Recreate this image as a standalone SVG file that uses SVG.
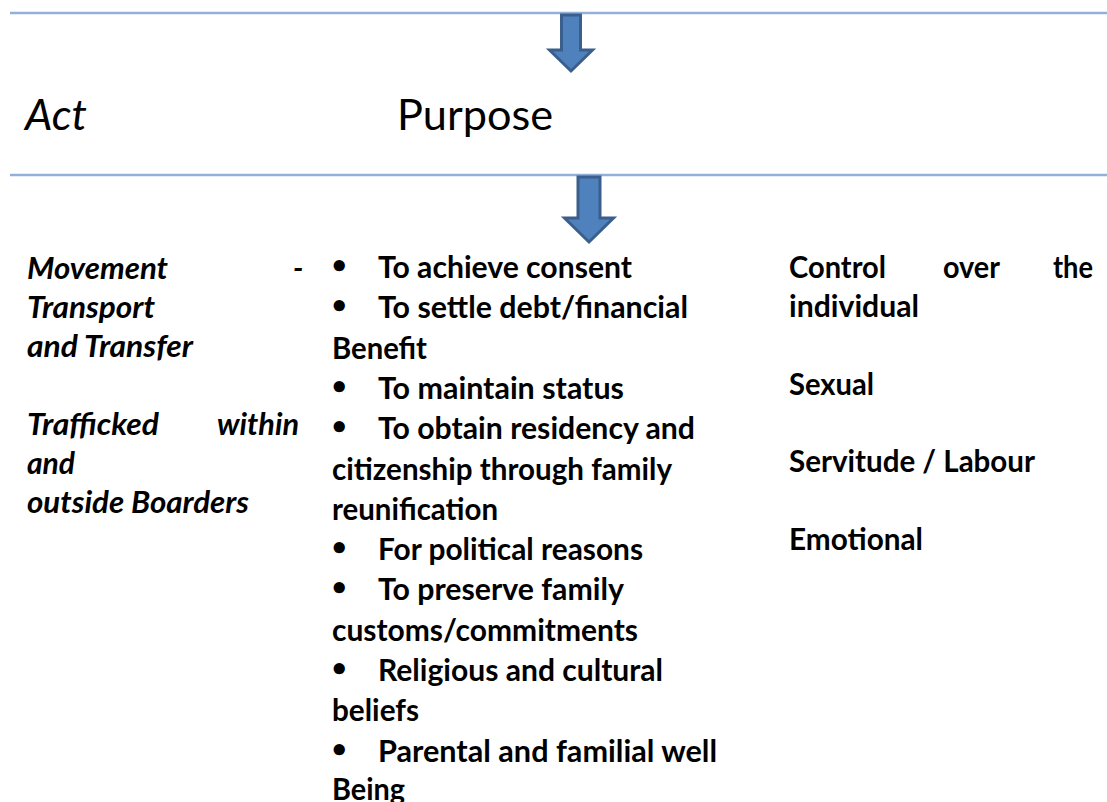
<svg xmlns="http://www.w3.org/2000/svg" width="1107" height="802" viewBox="0 0 1107 802">
<style>
.rule{stroke:#93B1D8;stroke-width:2.5;fill:none}
.blk{fill:#4F81BD;stroke:#3A5F8C;stroke-width:3;stroke-linejoin:miter}
.hd{font-family:Lato,"Liberation Sans",sans-serif;font-size:42px;fill:#000}
.b{font-family:Lato,"Liberation Sans",sans-serif;font-size:30px;font-weight:bold;fill:#000}
.bi{font-family:Lato,"Liberation Sans",sans-serif;font-size:30px;font-weight:bold;font-style:italic;fill:#000}
.bul{font-family:"DejaVu Sans",sans-serif;font-size:32px;font-weight:bold;fill:#000}
</style>
<rect width="1107" height="802" fill="#fff"/>
<g id="rules">
<line class="rule" x1="10" y1="13" x2="1107" y2="13"/>
<line class="rule" x1="10" y1="175" x2="1107" y2="175"/>
</g>
<g id="header">
<text class="hd" x="25" y="130" font-style="italic" textLength="62" lengthAdjust="spacingAndGlyphs">Act</text>
<text class="hd" x="397" y="130" textLength="156" lengthAdjust="spacingAndGlyphs">Purpose</text>
</g>
<g id="connectors">
<polygon class="blk" points="561.5,15 580.5,15 580.5,50 592.5,50 571,71 549.5,50 561.5,50"/>
<polygon class="blk" points="578,177 600,177 600,218 613.5,218 589,242 564.5,218 578,218"/>
</g>
<g id="act">
<text class="bi" x="27" y="279" textLength="141" lengthAdjust="spacingAndGlyphs">Movement</text>
<text class="bi" x="293" y="279">-</text>
<text class="bi" x="27" y="318" textLength="128" lengthAdjust="spacingAndGlyphs">Transport</text>
<text class="bi" x="27" y="357" textLength="166" lengthAdjust="spacingAndGlyphs">and Transfer</text>
<text class="bi" x="27" y="435" textLength="132" lengthAdjust="spacingAndGlyphs">Trafficked</text>
<text class="bi" x="217" y="435" textLength="82" lengthAdjust="spacingAndGlyphs">within</text>
<text class="bi" x="27" y="474" textLength="48" lengthAdjust="spacingAndGlyphs">and</text>
<text class="bi" x="27" y="513" textLength="222" lengthAdjust="spacingAndGlyphs">outside Boarders</text>
</g>
<g id="purpose">
<text class="bul" x="329" y="278">•</text>
<text class="b" x="378" y="278" textLength="254" lengthAdjust="spacingAndGlyphs">To achieve consent</text>
<text class="bul" x="329" y="318.3">•</text>
<text class="b" x="378" y="318.3" textLength="310" lengthAdjust="spacingAndGlyphs">To settle debt/financial</text>
<text class="b" x="332" y="358.6" textLength="95" lengthAdjust="spacingAndGlyphs">Benefit</text>
<text class="bul" x="329" y="398.9">•</text>
<text class="b" x="378" y="398.9" textLength="246" lengthAdjust="spacingAndGlyphs">To maintain status</text>
<text class="bul" x="329" y="439.2">•</text>
<text class="b" x="378" y="439.2" textLength="317" lengthAdjust="spacingAndGlyphs">To obtain residency and</text>
<text class="b" x="332" y="479.5" textLength="340" lengthAdjust="spacingAndGlyphs">citizenship through family</text>
<text class="b" x="332" y="519.8" textLength="166" lengthAdjust="spacingAndGlyphs">reunification</text>
<text class="bul" x="329" y="560.1">•</text>
<text class="b" x="378" y="560.1" textLength="265" lengthAdjust="spacingAndGlyphs">For political reasons</text>
<text class="bul" x="329" y="600.4">•</text>
<text class="b" x="378" y="600.4" textLength="246" lengthAdjust="spacingAndGlyphs">To preserve family</text>
<text class="b" x="332" y="640.7" textLength="306" lengthAdjust="spacingAndGlyphs">customs/commitments</text>
<text class="bul" x="329" y="681">•</text>
<text class="b" x="378" y="681" textLength="285" lengthAdjust="spacingAndGlyphs">Religious and cultural</text>
<text class="b" x="332" y="721.3" textLength="87" lengthAdjust="spacingAndGlyphs">beliefs</text>
<text class="bul" x="329" y="761.6">•</text>
<text class="b" x="378" y="761.6" textLength="339" lengthAdjust="spacingAndGlyphs">Parental and familial well</text>
<text class="b" x="332" y="800" textLength="73" lengthAdjust="spacingAndGlyphs">Being</text>
</g>
<g id="means">
<text class="b" x="789" y="278" textLength="97" lengthAdjust="spacingAndGlyphs">Control</text>
<text class="b" x="943" y="278" textLength="57" lengthAdjust="spacingAndGlyphs">over</text>
<text class="b" x="1053" y="278" textLength="40" lengthAdjust="spacingAndGlyphs">the</text>
<text class="b" x="789" y="317" textLength="130" lengthAdjust="spacingAndGlyphs">individual</text>
<text class="b" x="789" y="395" textLength="85" lengthAdjust="spacingAndGlyphs">Sexual</text>
<text class="b" x="789" y="472" textLength="246" lengthAdjust="spacingAndGlyphs">Servitude / Labour</text>
<text class="b" x="789" y="550" textLength="134" lengthAdjust="spacingAndGlyphs">Emotional</text>
</g>
</svg>
